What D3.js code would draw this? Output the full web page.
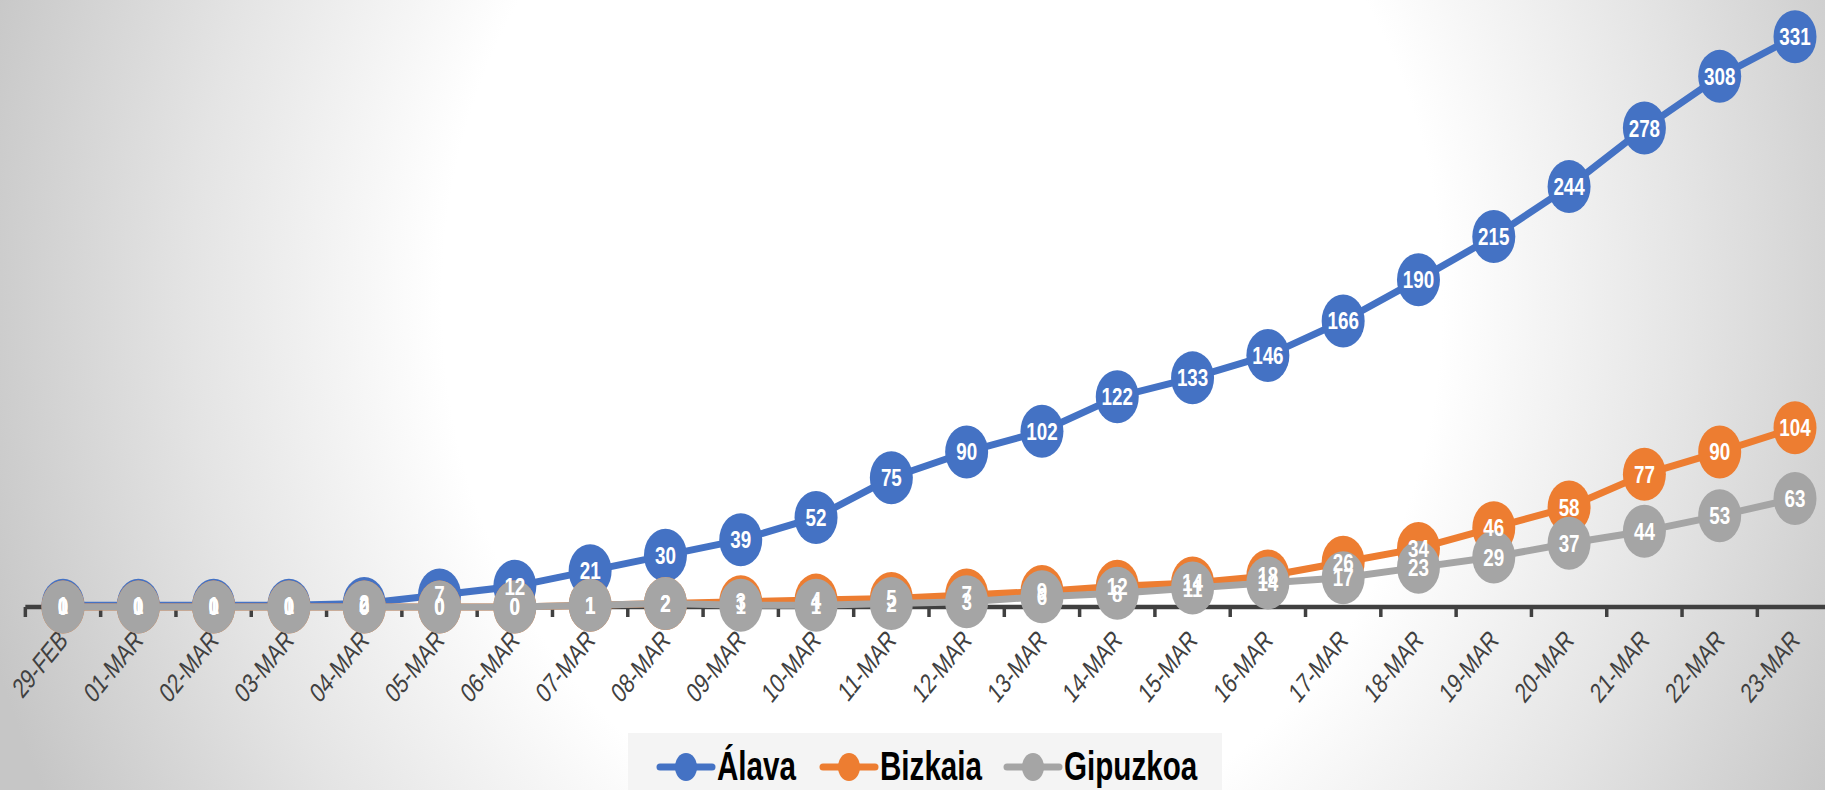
<!DOCTYPE html>
<html>
<head>
<meta charset="utf-8">
<script src="https://cdn.jsdelivr.net/npm/d3@7"></script>
<style>
  html, body { margin: 0; padding: 0; background: #fff; }
  svg { display: block; }
</style>
</head>
<body>
<svg id="chart" width="1825" height="790"></svg>
<script>
const dates = ["29-FEB","01-MAR","02-MAR","03-MAR","04-MAR","05-MAR","06-MAR","07-MAR","08-MAR","09-MAR","10-MAR","11-MAR","12-MAR","13-MAR","14-MAR","15-MAR","16-MAR","17-MAR","18-MAR","19-MAR","20-MAR","21-MAR","22-MAR","23-MAR"];
const alava    = [1,1,1,1,2,7,12,21,30,39,52,75,90,102,122,133,146,166,190,215,244,278,308,331];
const bizkaia  = [0,0,0,0,0,0,0,1,2,3,4,5,7,9,12,14,18,26,34,46,58,77,90,104];
const gipuzkoa = [0,0,0,0,0,0,0,1,2,1,1,2,3,6,8,11,14,17,23,29,37,44,53,63];
const seriesNames = ["Álava","Bizkaia","Gipuzkoa"];
const seriesColors = ["#4472C4","#ED7D31","#A5A5A5"];

const series = [alava, bizkaia, gipuzkoa].map((vals, i) => ({
  name: seriesNames[i], color: seriesColors[i],
  points: vals.map((v, j) => ({ d: dates[j], v }))
}));

const W = 1825, H = 790;
const svg = d3.select("#chart");
const defs = svg.append("defs");
const grad = defs.append("radialGradient")
  .attr("id", "bg")
  .attr("gradientUnits", "userSpaceOnUse")
  .attr("cx", 942).attr("cy", 300).attr("r", 1000)
  .attr("fx", 942).attr("fy", 300)
  .attr("gradientTransform", "translate(942,300) scale(1,1.12) translate(-942,-300)");
grad.append("stop").attr("offset", 0).attr("stop-color", "#ffffff");
grad.append("stop").attr("offset", 0.5).attr("stop-color", "#ffffff");
grad.append("stop").attr("offset", 0.75).attr("stop-color", "#e4e4e4");
grad.append("stop").attr("offset", 1).attr("stop-color", "#c6c6c6");

svg.append("rect").attr("width", W).attr("height", H).attr("fill", "url(#bg)");

const x = d3.scalePoint().domain(dates).range([63, 1795]);
const step = x.step();
const y = d3.scaleLinear().domain([0, 350]).range([607, 4]);

// category axis
const axisG = svg.append("g").attr("transform", `translate(0,${y(0)})`);
const bandEdges = d3.range(dates.length + 1).map(i => x(dates[0]) - step / 2 + i * step);
axisG.append("line")
  .attr("x1", bandEdges[0]).attr("x2", W)
  .attr("y1", 0).attr("y2", 0)
  .attr("stroke", "#404040").attr("stroke-width", 4.5);
axisG.selectAll("line.tick").data(bandEdges).join("line")
  .attr("class", "tick")
  .attr("x1", d => d).attr("x2", d => d)
  .attr("y1", 0).attr("y2", 10)
  .attr("stroke", "#404040").attr("stroke-width", 3.5);

axisG.selectAll("text.lab").data(dates).join("text")
  .attr("class", "lab")
  .attr("transform", d => `translate(${x(d) + 6},${35}) scale(1,1.23) rotate(-45) scale(0.85,1)`)
  .attr("text-anchor", "end")
  .attr("font-family", "'Liberation Sans', Arial, sans-serif")
  .attr("font-size", 23)
  .attr("fill", "#404040")
  .text(d => d);

// series
const line = d3.line().x(p => x(p.d)).y(p => y(p.v));
series.forEach(s => {
  const g = svg.append("g");
  g.append("path")
    .attr("d", line(s.points))
    .attr("fill", "none")
    .attr("stroke", s.color)
    .attr("stroke-width", 7)
    .attr("stroke-linejoin", "round")
    .attr("stroke-linecap", "round");
  g.selectAll("ellipse").data(s.points).join("ellipse")
    .attr("cx", p => x(p.d)).attr("cy", p => y(p.v))
    .attr("rx", 21.5).attr("ry", 26.5)
    .attr("fill", s.color);
});

// data labels on top
series.forEach(s => {
  svg.append("g").selectAll("text").data(s.points).join("text")
    .attr("transform", p => `translate(${x(p.d)},${y(p.v)}) scale(0.8,1)`)
    .attr("dy", "0.36em")
    .attr("text-anchor", "middle")
    .attr("font-family", "'Liberation Sans', Arial, sans-serif")
    .attr("font-weight", "bold")
    .attr("font-size", 23.5)
    .attr("fill", "#ffffff")
    .text(p => p.v);
});

// legend
const lg = svg.append("g");
lg.append("rect").attr("x", 628).attr("y", 733).attr("width", 594).attr("height", 70)
  .attr("fill", "#f3f3f3").attr("opacity", 0.9);
const legendX = [660, 823, 1007];
const legY = 767;
series.forEach((s, i) => {
  const g = lg.append("g").attr("transform", `translate(${legendX[i]},${legY})`);
  g.append("line").attr("x1", 0).attr("x2", 52).attr("y1", 0).attr("y2", 0)
    .attr("stroke", s.color).attr("stroke-width", 7).attr("stroke-linecap", "round");
  g.append("ellipse").attr("cx", 26).attr("cy", 0).attr("rx", 11).attr("ry", 14).attr("fill", s.color);
  g.append("text")
    .attr("transform", "translate(57,13) scale(0.8,1.12)")
    .attr("font-family", "'Liberation Sans', Arial, sans-serif")
    .attr("font-weight", "bold")
    .attr("font-size", 37)
    .attr("fill", "#000")
    .text(s.name);
});
</script>
</body>
</html>
